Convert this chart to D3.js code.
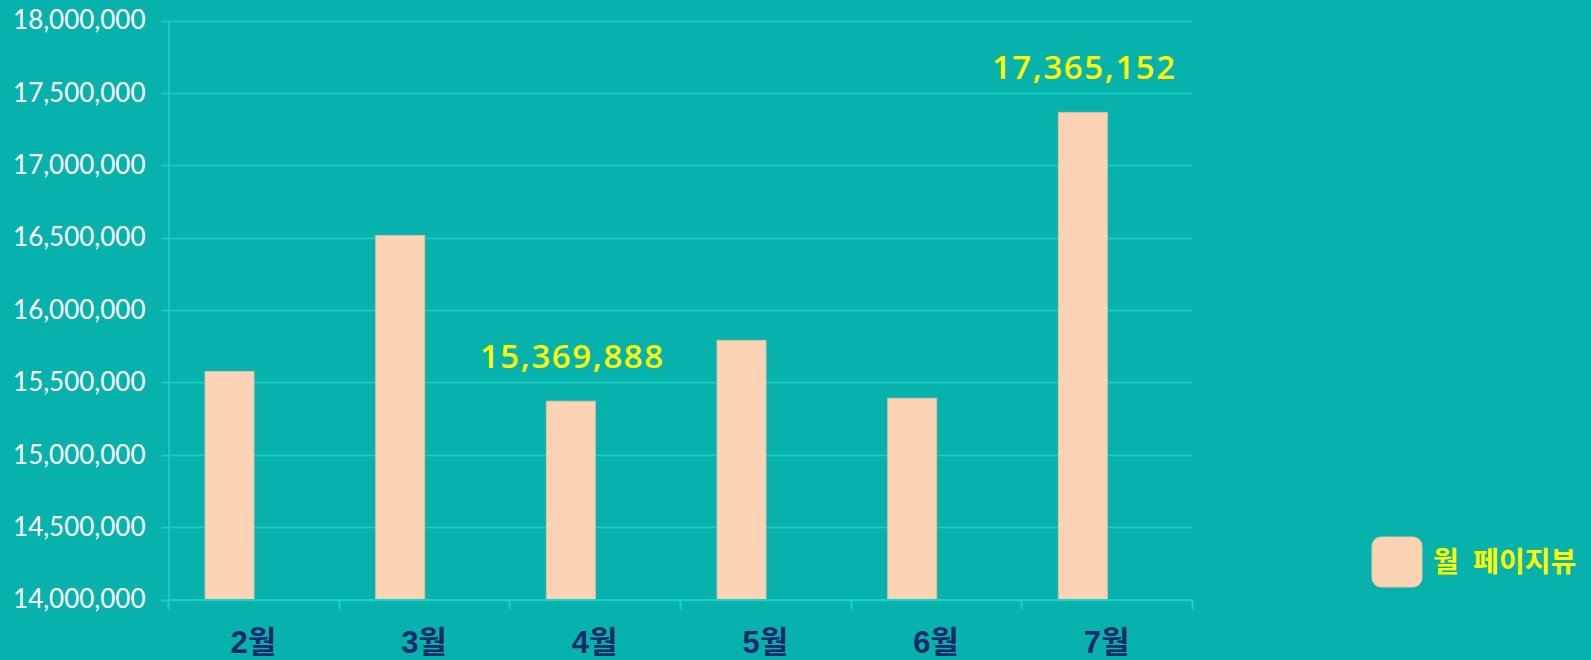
<!DOCTYPE html>
<html><head><meta charset="utf-8">
<script src="https://cdn.jsdelivr.net/npm/d3@7"></script>
<style>
html,body{margin:0;padding:0;background:#08b2ac;}
svg{display:block;}
</style></head>
<body>
<script>
const months = ["2월","3월","4월","5월","6월","7월"];
const pageViews = [15575000, 16515000, 15369888, 15790000, 15390000, 17365152];
const labeledMonths = ["4월","7월"];
const yTicks = [14000000,14500000,15000000,15500000,16000000,16500000,17000000,17500000,18000000];
const seriesName = "월 페이지뷰";

const W = 1591, H = 660;
const svg = d3.select("body").append("svg").attr("width", W).attr("height", H);
svg.append("rect").attr("width", W).attr("height", H).attr("fill", "#08b2ac");

const x = d3.scaleBand().domain(months).range([168, 1192]).padding(0);
const y = d3.scaleLinear().domain([14000000, 18000000]).range([599.5, 20.5]);
const fmt = d3.format(",");

// grid
const gGrid = svg.append("g");
gGrid.selectAll("line").data(yTicks).join("line")
  .attr("x1", 161).attr("x2", 1192)
  .attr("y1", d => Math.round(y(d)) + 0.5).attr("y2", d => Math.round(y(d)) + 0.5)
  .attr("stroke", "#1acdc5").attr("stroke-width", 1.5);

// y axis
const yAxis = svg.append("g").attr("transform", "translate(168.5,0)")
  .call(d3.axisLeft(y).tickValues(yTicks).tickFormat(fmt).tickSize(0).tickPadding(23));
yAxis.select(".domain").attr("stroke", "#1ad2ca").attr("stroke-width", 1.5);
yAxis.selectAll("text").attr("fill", "#ffffff").attr("font-family", "Lato, sans-serif")
  .attr("font-size", 26).attr("font-weight", 400);

// bars
const bw = x.bandwidth();
svg.append("g").selectAll("rect").data(months).join("rect")
  .attr("x", d => x(d) + bw * 0.217)
  .attr("width", bw * 0.287)
  .attr("y", (d, i) => y(pageViews[i]))
  .attr("height", (d, i) => y(14000000) - y(pageViews[i]))
  .attr("fill", "#fcd4b5")
  .attr("stroke", "#d9c0a8").attr("stroke-width", 1);

// x axis
const xAxis = svg.append("g").attr("transform", "translate(0,600)")
  .call(d3.axisBottom(x).tickSize(0).tickPadding(0));
xAxis.select(".domain").remove();
xAxis.append("line").attr("x1", 168).attr("x2", 1192).attr("y1", 0).attr("y2", 0)
  .attr("stroke", "#1ad2ca").attr("stroke-width", 2);
const bounds = months.map(m => x(m)).concat([x.range()[1]]);
xAxis.selectAll(".bt").data(bounds).join("line").attr("class", "bt")
  .attr("x1", d => Math.round(d) + 0.5).attr("x2", d => Math.round(d) + 0.5)
  .attr("y1", 0).attr("y2", 9).attr("stroke", "#1ad2ca").attr("stroke-width", 2);
xAxis.selectAll(".tick text")
  .attr("y", 42).attr("dy", "0.35em")
  .attr("fill", "#112a6a").attr("font-family", "'Liberation Sans', 'Noto Sans CJK KR', sans-serif")
  .attr("font-size", 31).attr("font-weight", 700);

// value labels
svg.append("g").selectAll("text").data(labeledMonths).join("text")
  .attr("x", d => x(d) + bw * 0.217 + bw * 0.287 / 2 + 1.5)
  .attr("y", d => y(pageViews[months.indexOf(d)]) - 33)
  .attr("text-anchor", "middle")
  .attr("fill", "#ffff00")
  .attr("font-family", "'Open Sans', sans-serif")
  .attr("font-size", 33).attr("font-weight", 600)
  .attr("letter-spacing", 1.6)
  .text(d => fmt(pageViews[months.indexOf(d)]));

// legend
const lg = svg.append("g").attr("transform", "translate(1372,537)");
lg.append("rect").attr("width", 50).attr("height", 50).attr("rx", 9)
  .attr("fill", "#fcd4b5").attr("stroke", "#e5c3a6").attr("stroke-width", 1);
lg.append("text").attr("x", 61).attr("y", 25).attr("dy", "0.35em")
  .attr("fill", "#ffff00").attr("font-family", "'Noto Sans CJK KR', sans-serif")
  .attr("font-size", 28).attr("font-weight", 700)
  .attr("word-spacing", 8)
  .text(seriesName);
</script>
</body></html>
